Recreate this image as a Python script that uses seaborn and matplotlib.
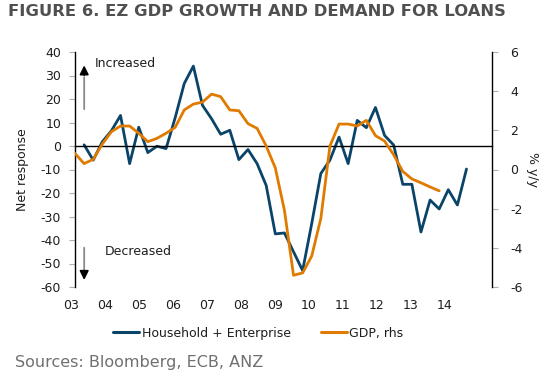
import numpy as np
import pandas as pd
import matplotlib
matplotlib.use('Agg')
import matplotlib.pyplot as plt
import seaborn as sns

# quarterly data, 2003Q1 onwards (index 0 = 2003Q1)
loans = [np.nan, 0.5, -6, 1.8, 6.5, 13, -7.5, 8, -2.8, -0.1,
         -1.1, 12, 26.6, 34, 17.3, 11.6, 5, 6.7, -5.8, -1.5,
         -7.5, -16.8, -37.4, -37, -45, -53, -33, -11.7, -6, 3.8,
         -7.5, 10.9, 7.8, 16.4, 4.5, 0.4, -16.3, -16.3, -36.6, -23,
         -26.8, -18.6, -25.1, -9.8]
gdp = [0.82, 0.3, 0.52, 1.3, 1.93, 2.22, 2.22, 1.85, 1.42, 1.59,
       1.85, 2.15, 3.04, 3.34, 3.44, 3.85, 3.72, 3.04, 3.0, 2.34,
       2.1, 1.2, 0.08, -2.08, -5.4, -5.28, -4.42, -2.5, 1.2, 2.32,
       2.32, 2.22, 2.51, 1.73, 1.45, 0.75, -0.1, -0.48, -0.68, -0.89,
       -1.09, np.nan, np.nan, np.nan]
year_labels = ['03', '04', '05', '06', '07', '08', '09', '10', '11', '12', '13', '14']

df = pd.DataFrame({'q': np.arange(len(loans)), 'loans': loans, 'gdp': gdp})

blue = '#0a4468'
orange = '#e07b00'
txt = '#1e1e1e'

sns.set_style('white')
plt.rcParams['font.family'] = ['DejaVu Sans']
plt.rcParams['axes.unicode_minus'] = False

fig = plt.figure(figsize=(5.59, 3.77), dpi=100)
ax = fig.add_axes([75 / 559, 1 - 287 / 377, 417 / 559, 235 / 377])
ax2 = ax.twinx()

sns.lineplot(data=df, x='q', y='loans', ax=ax, color=blue, linewidth=2.0, legend=False)
sns.lineplot(data=df, x='q', y='gdp', ax=ax2, color=orange, linewidth=2.0, legend=False)

ax.set_xlim(0, 45.8)
ax.set_ylim(-60, 40)
ax2.set_ylim(-6, 6)
ax.set_yticks(np.arange(-60, 41, 10))
ax2.set_yticks(np.arange(-6, 7, 2))

# zero line with quarter ticks
ax.spines['bottom'].set_position(('data', 0))
ax.spines['bottom'].set_color('black')
ax.spines['bottom'].set_linewidth(1)
ax.set_xticks(np.arange(4, 45, 4))
ax.set_xticklabels([])
ax.tick_params(axis='x', length=4, color='#b0b0b0', direction='out')

for s in ['top', 'right']:
    ax.spines[s].set_visible(False)
for s in ['top', 'left', 'bottom']:
    ax2.spines[s].set_visible(False)
ax.spines['left'].set_color('black')
ax2.spines['right'].set_color('black')
ax.spines['left'].set_linewidth(1)
ax2.spines['right'].set_linewidth(1)

ax.tick_params(axis='y', length=4, color='#b0b0b0', labelsize=9, labelcolor=txt, pad=6)
ax2.tick_params(axis='y', length=4, color='#b0b0b0', labelsize=9, labelcolor=txt, pad=9)
ax.set_xlabel('')
ax.set_ylabel('Net response', fontsize=9, color=txt, va='center')
ax.yaxis.set_label_coords(-0.127, 0.5)
ax2.set_xlabel('')
ax2.set_ylabel('% y/y', fontsize=9, color=txt, rotation=270, va='center')
ax2.yaxis.set_label_coords(1.098, 0.5)

# year labels below the plot
trans = matplotlib.transforms.blended_transform_factory(ax.transData, ax.transAxes)
for i, lab in enumerate(year_labels):
    ax.text(-0.4 + 3.73 * i, -0.077, lab, transform=trans, ha='center', va='center',
            fontsize=9, color=txt, clip_on=False)

# arrows
ax.annotate('', xy=(0.022, 0.905), xytext=(0.022, 0.745), xycoords='axes fraction',
            arrowprops=dict(arrowstyle='-', color='#8a8a8a', lw=1.3))
ax.annotate('', xy=(0.022, 0.955), xytext=(0.022, 0.89), xycoords='axes fraction',
            arrowprops=dict(arrowstyle='-|>', color='black', lw=1.3, mutation_scale=13))
ax.annotate('', xy=(0.022, 0.06), xytext=(0.022, 0.179), xycoords='axes fraction',
            arrowprops=dict(arrowstyle='-', color='#8a8a8a', lw=1.3))
ax.annotate('', xy=(0.022, 0.018), xytext=(0.022, 0.08), xycoords='axes fraction',
            arrowprops=dict(arrowstyle='-|>', color='black', lw=1.3, mutation_scale=13))
ax.text(0.048, 0.949, 'Increased', transform=ax.transAxes, fontsize=9, color=txt, va='center')
ax.text(0.072, 0.153, 'Decreased', transform=ax.transAxes, fontsize=9, color=txt, va='center')

# legend
handles = [matplotlib.lines.Line2D([], [], color=blue, lw=2.2),
           matplotlib.lines.Line2D([], [], color=orange, lw=2.2)]
fig.legend(handles, ['Household + Enterprise', 'GDP, rhs'], loc='center',
           bbox_to_anchor=(0.462, 1 - 333 / 377), ncol=2, frameon=False,
           fontsize=9, handlelength=2.1, handletextpad=0.2, columnspacing=2.4,
           labelcolor=txt)

fig.text(8 / 559, 1 - 12 / 377, 'FIGURE 6. EZ GDP GROWTH AND DEMAND FOR LOANS',
         fontsize=11.8, fontweight='bold', color='#505050', va='center', ha='left')
fig.text(15 / 559, 1 - 363 / 377, 'Sources: Bloomberg, ECB, ANZ',
         fontsize=11.5, color='#707070', va='center', ha='left')

fig.savefig('out.png', dpi=100)
